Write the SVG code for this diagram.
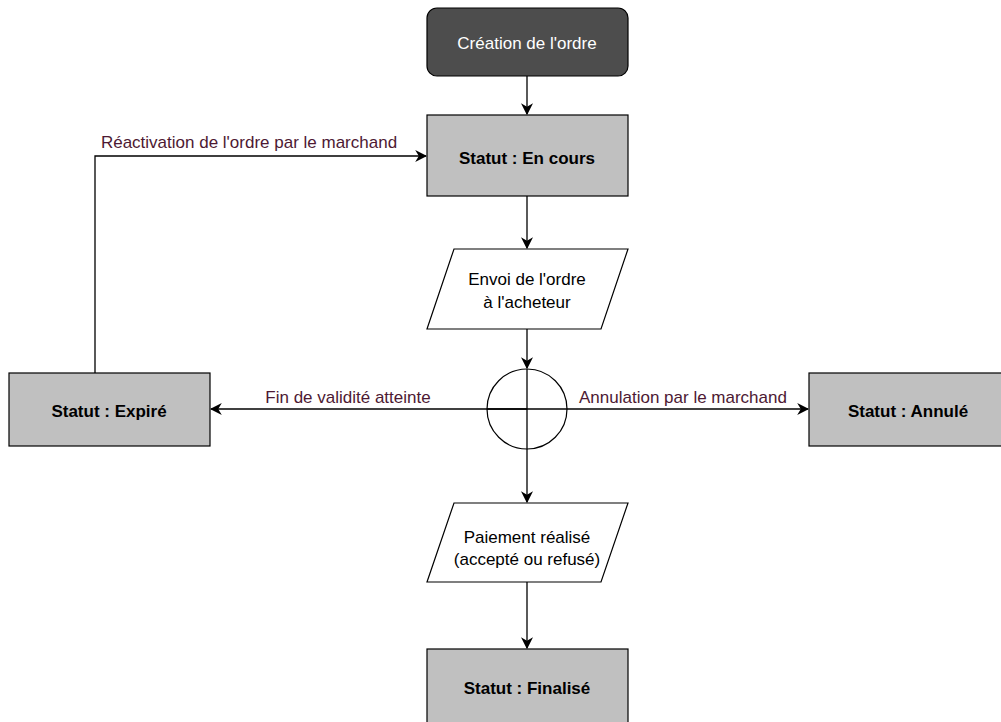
<svg xmlns="http://www.w3.org/2000/svg" width="1001" height="722" viewBox="0 0 1001 722">
<style>
.box{fill:#c0c0c0;stroke:#000;stroke-width:1.2}
.para{fill:#fff;stroke:#000;stroke-width:1.2}
.t{font-family:"Liberation Sans",Arial,sans-serif;font-size:17px;text-anchor:middle;fill:#000}
.b{font-weight:bold}
.lbl{font-family:"Liberation Sans",Arial,sans-serif;font-size:17px;fill:#4d1933;text-anchor:middle}
.c{fill:none;stroke:#000;stroke-width:1.3}
</style>
<defs>
<marker id="ah" viewBox="0 0 10 10" refX="9" refY="5" markerWidth="12" markerHeight="12" markerUnits="userSpaceOnUse" orient="auto">
<path d="M0,0 L10,5 L0,10 L3,5 Z" fill="#000"/>
</marker>
</defs>
<rect width="1001" height="722" fill="#fff"/>
<g id="connectors">
<line class="c" x1="527" y1="76" x2="527" y2="114" marker-end="url(#ah)"/>
<line class="c" x1="527" y1="196" x2="527" y2="248" marker-end="url(#ah)"/>
<line class="c" x1="527" y1="329" x2="527" y2="368" marker-end="url(#ah)"/>
<line class="c" x1="527" y1="369" x2="527" y2="502" marker-end="url(#ah)"/>
<line class="c" x1="527" y1="582" x2="527" y2="648" marker-end="url(#ah)"/>
<line class="c" x1="527" y1="409" x2="211" y2="409" marker-end="url(#ah)"/>
<line class="c" x1="487" y1="409" x2="808" y2="409" marker-end="url(#ah)"/>
<polyline class="c" points="95,373 95,156 426,156" marker-end="url(#ah)"/>
<text class="lbl" x="249" y="148">Réactivation de l'ordre par le marchand</text>
<text class="lbl" x="348" y="403">Fin de validité atteinte</text>
<text class="lbl" x="683" y="403">Annulation par le marchand</text>
</g>
<g id="creation">
<rect x="427" y="8" width="201" height="68" rx="10" ry="10" fill="#4d4d4d" stroke="#000" stroke-width="1.2"/>
<text class="t" x="527" y="49" style="fill:#fff">Création de l'ordre</text>
</g>
<g id="encours">
<rect class="box" x="427" y="115" width="201" height="81"/>
<text class="t b" x="527" y="164">Statut : En cours</text>
</g>
<g id="envoi">
<polygon class="para" points="454,249 628,249 601,329 427,329"/>
<text class="t" x="527" y="285">Envoi de l'ordre</text>
<text class="t" x="527" y="308">à l'acheteur</text>
</g>
<g id="decision">
<circle cx="527" cy="409" r="40" fill="none" stroke="#000" stroke-width="1.2"/>
</g>
<g id="expire">
<rect class="box" x="9" y="373" width="201" height="73"/>
<text class="t b" x="109" y="417">Statut : Expiré</text>
</g>
<g id="annule">
<rect class="box" x="809" y="373" width="201" height="73"/>
<text class="t b" x="908" y="417">Statut : Annulé</text>
</g>
<g id="paiement">
<polygon class="para" points="454,503 628,503 601,582 427,582"/>
<text class="t" x="527" y="543">Paiement réalisé</text>
<text class="t" x="527" y="565">(accepté ou refusé)</text>
</g>
<g id="finalise">
<rect class="box" x="427" y="649" width="201" height="81"/>
<text class="t b" x="527" y="694">Statut : Finalisé</text>
</g>
</svg>
